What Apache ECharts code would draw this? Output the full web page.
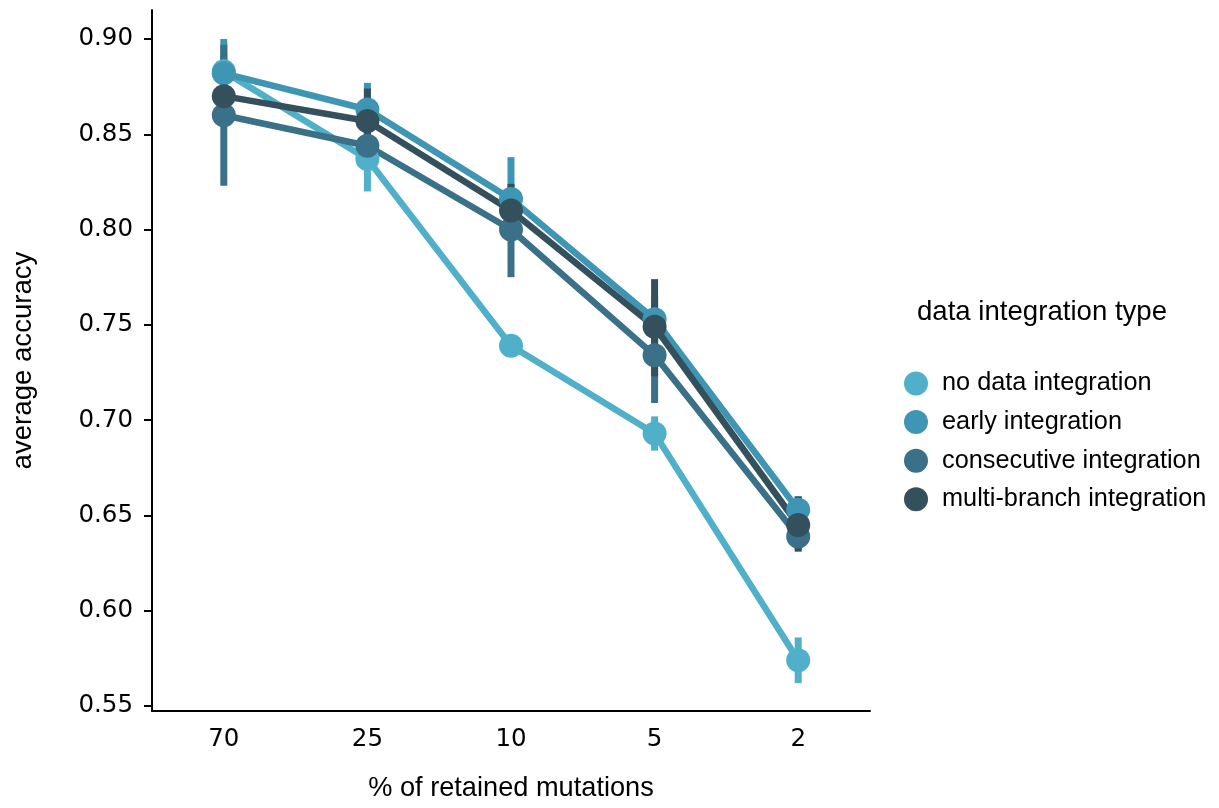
<!DOCTYPE html>
<html>
<head>
<meta charset="utf-8">
<script src="https://cdn.jsdelivr.net/npm/echarts@6/dist/echarts.min.js"></script>
<style>
  html, body { margin: 0; padding: 0; background: #fff; }
  #chart { width: 1219px; height: 808px; }
</style>
</head>
<body>
<div id="chart"></div>
<script>
// categories (x) and tick labels (y)
var categories = ['70', '25', '10', '5', '2'];
var yTicks = [0.55, 0.60, 0.65, 0.70, 0.75, 0.80, 0.85, 0.90];

var seriesNames = ['no data integration', 'early integration', 'consecutive integration', 'multi-branch integration'];
var colors = ['#50b0c9', '#3e96b4', '#3a7189', '#35505d'];

// mean accuracy per category
var noData      = [0.883, 0.837, 0.739, 0.693, 0.574];
var early       = [0.882, 0.863, 0.816, 0.753, 0.653];
var consecutive = [0.860, 0.844, 0.800, 0.734, 0.639];
var multiBranch = [0.870, 0.857, 0.810, 0.749, 0.645];

// confidence intervals (low / high)
var noDataLo      = [0.874, 0.820, 0.737, 0.684, 0.562];
var noDataHi      = [0.892, 0.852, 0.741, 0.702, 0.586];
var earlyLo       = [0.865, 0.850, 0.795, 0.740, 0.645];
var earlyHi       = [0.900, 0.877, 0.838, 0.765, 0.660];
var consecutiveLo = [0.823, 0.835, 0.775, 0.709, 0.632];
var consecutiveHi = [0.897, 0.853, 0.818, 0.750, 0.647];
var multiBranchLo = [0.857, 0.840, 0.796, 0.723, 0.631];
var multiBranchHi = [0.884, 0.874, 0.824, 0.774, 0.660];

var means = [noData, early, consecutive, multiBranch];
var lows  = [noDataLo, earlyLo, consecutiveLo, multiBranchLo];
var highs = [noDataHi, earlyHi, consecutiveHi, multiBranchHi];

var chart = echarts.init(document.getElementById('chart'));

var series = [];
seriesNames.forEach(function (name, i) {
  // error bars first, then the points + line on top
  series.push({
    type: 'custom',
    name: name,
    silent: true,
    data: categories.map(function (c, k) { return [k, lows[i][k], highs[i][k]]; }),
    renderItem: function (params, api) {
      var p1 = api.coord([api.value(0), api.value(1)]);
      var p2 = api.coord([api.value(0), api.value(2)]);
      return {
        type: 'line',
        shape: { x1: p1[0], y1: p1[1], x2: p2[0], y2: p2[1] },
        style: { stroke: colors[i], lineWidth: 7 }
      };
    }
  });
  series.push({
    type: 'line',
    name: name,
    data: means[i],
    symbol: 'circle',
    symbolSize: 24,
    lineStyle: { color: colors[i], width: 6.5 },
    itemStyle: { color: colors[i] },
    emphasis: { disabled: true }
  });
});

var option = {
  animation: false,
  color: colors,
  title: {
    text: 'data integration type',
    left: 912,
    top: 293,
    textStyle: { fontFamily: 'Liberation Sans', fontSize: 27.6, fontWeight: 'normal', color: '#000' }
  },
  legend: {
    data: seriesNames,
    orient: 'vertical',
    left: 899,
    top: 366,
    icon: 'circle',
    itemWidth: 24,
    itemHeight: 24,
    itemGap: 13.6,
    textStyle: { fontFamily: 'Liberation Sans', fontSize: 25.3, color: '#000', padding: [0, 0, 0, 9] }
  },
  grid: { left: 152, right: 349, top: 10, bottom: 97 },
  xAxis: {
    type: 'category',
    data: categories,
    boundaryGap: true,
    name: '% of retained mutations',
    nameLocation: 'middle',
    nameGap: 64,
    nameTextStyle: { fontFamily: 'Liberation Sans', fontSize: 27.2, color: '#000' },
    axisLine: { lineStyle: { color: '#000', width: 2 } },
    axisTick: { alignWithLabel: true, length: 8, lineStyle: { color: '#000', width: 2 } },
    axisLabel: { fontFamily: 'DejaVu Sans', fontSize: 24.5, color: '#000', margin: 16 },
    splitLine: { show: false }
  },
  yAxis: {
    type: 'value',
    min: 0.5474,
    max: 0.9152,
    name: 'average accuracy',
    nameLocation: 'middle',
    nameGap: 115,
    nameTextStyle: { fontFamily: 'Liberation Sans', fontSize: 27.6, color: '#000' },
    axisLine: { show: true, lineStyle: { color: '#000', width: 2 } },
    axisTick: { show: true, length: 8, customValues: yTicks, lineStyle: { color: '#000', width: 2 } },
    axisLabel: {
      fontFamily: 'DejaVu Sans', fontSize: 24.5, color: '#000', margin: 19,
      customValues: yTicks,
      formatter: function (v) { return v.toFixed(2); }
    },
    splitLine: { show: false }
  },
  series: series
};

chart.setOption(option);
</script>
</body>
</html>
